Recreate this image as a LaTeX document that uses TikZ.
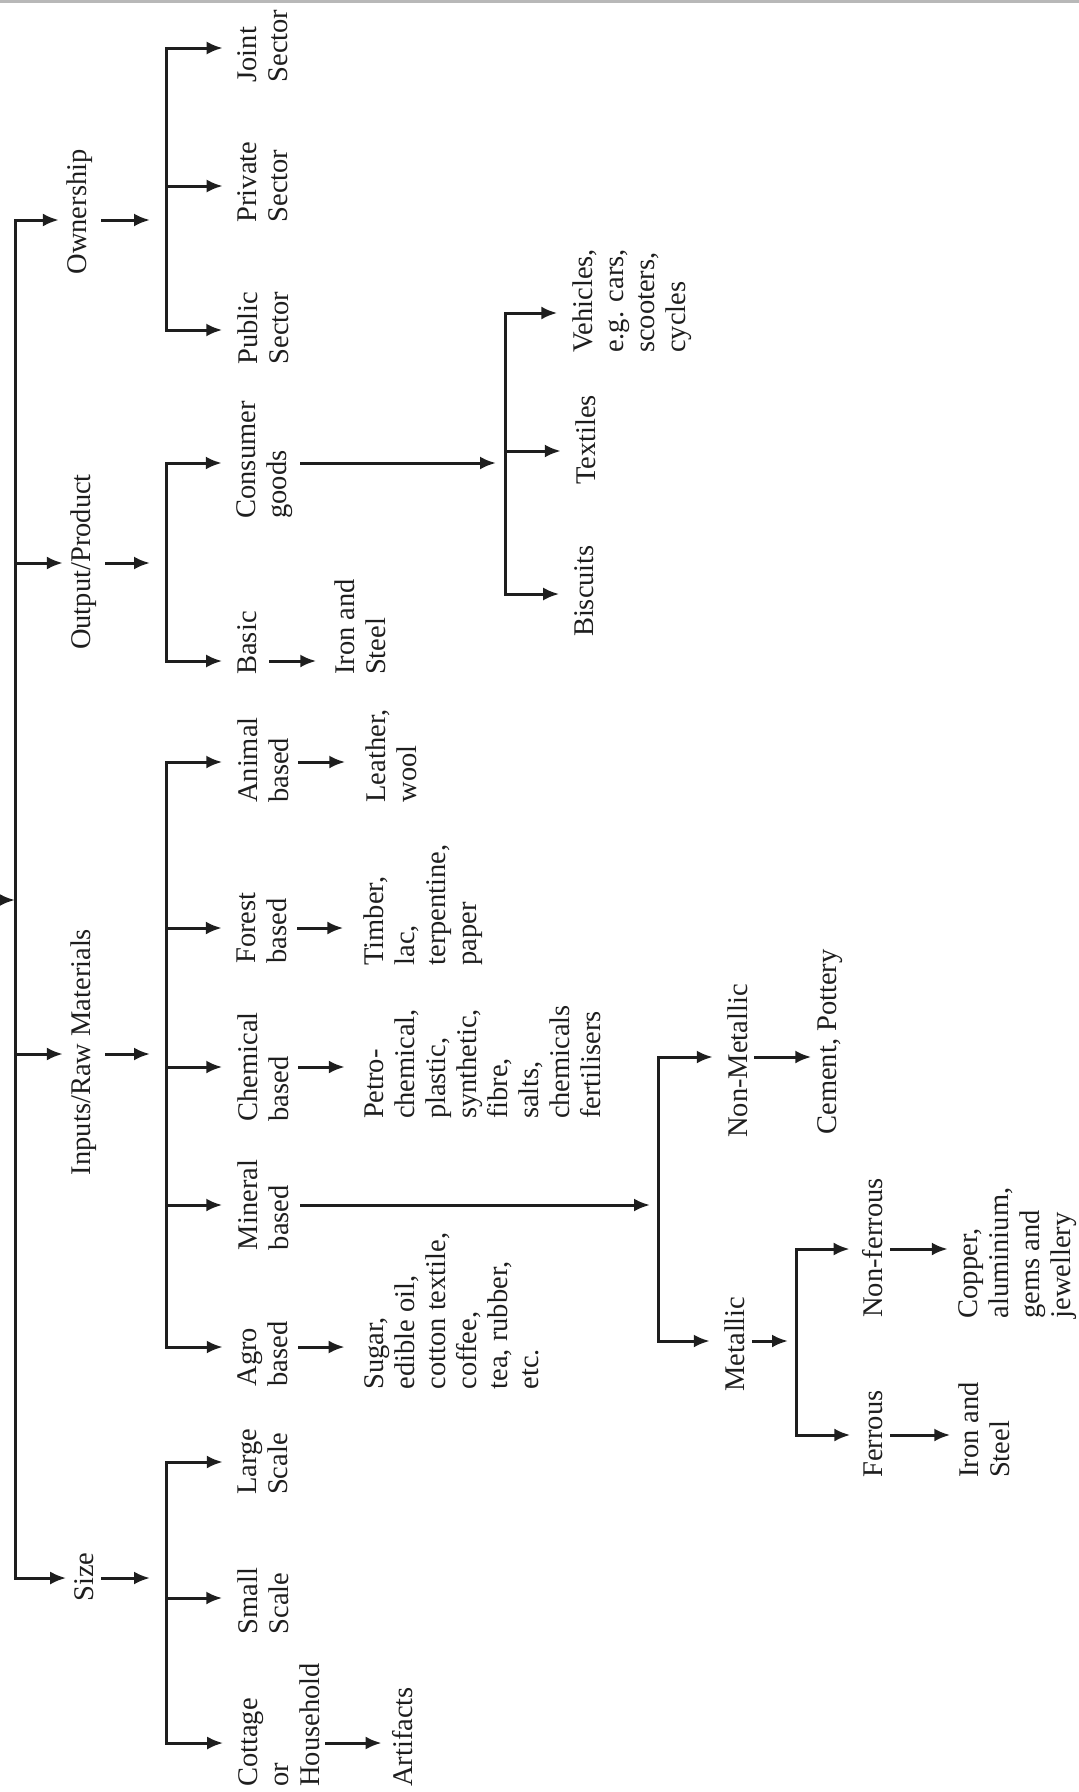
\documentclass[tikz,border=0pt]{standalone}
\usepackage{fontspec}
\setmainfont{Liberation Serif}
\usetikzlibrary{arrows.meta}
\definecolor{ink}{HTML}{1E1E1E}
\definecolor{rulegray}{HTML}{B8B8B8}

\begin{document}
\begin{tikzpicture}[
  x=1pt, y=-1pt,
  every node/.style={text=ink, font=\fontsize{28.5}{31}\selectfont, rotate=90, align=left, inner sep=0pt},
  wire/.style={ink, line width=3pt, line cap=rect},
  arr/.style={wire, -{Latex[length=16pt, width=13pt]}},
  feed/.style={arr, shorten >=15pt},
  link/.style={arr, shorten <=11pt, shorten >=20pt},
]

% Frame
\useasboundingbox (0,0) rectangle (1079,1792);
\draw[rulegray, line width=3pt] (0,1.5) -- (1079,1.5);

% Main line
\coordinate (m-from) at (-40,900);
\coordinate (m-in)   at (15,900);
\coordinate (m-own)  at (15,220);
\coordinate (m-out)  at (15,563);
\coordinate (m-inp)  at (15,1054);
\coordinate (m-size) at (15,1578);
\draw[wire] (m-own) -- (m-size);
\draw[arr] (m-from) -- (m-in);

% First level
\node (own)  at (80,212)  {Ownership};
\node (out)  at (84,562)  {Output/Product};
\node (inp)  at (84,1052) {Inputs/Raw Materials};
\node (size) at (84,1577) {Size};

\coordinate (b-own)  at (166,220);
\coordinate (b-out)  at (166,563);
\coordinate (b-inp)  at (166,1054);
\coordinate (b-size) at (166,1578);

\foreach \n in {own,out,inp,size}{
  \draw[arr, shorten >=8pt] (m-\n) -- (\n.north |- m-\n);
  \draw[arr, shorten <=9pt, shorten >=16pt] (\n.south |- m-\n) -- (b-\n);
}

% Ownership
\node (joint)   at (263,46)  {Joint\\Sector};
\node (private) at (263,182) {Private\\Sector};
\node (public)  at (263,328) {Public\\Sector};
\coordinate (b-joint)   at (166,48);
\coordinate (b-private) at (166,186);
\coordinate (b-public)  at (166,330);
\draw[wire] (b-joint) -- (b-public);
\foreach \n in {joint,private,public}
  \draw[feed] (b-\n) -- (\n.north |- b-\n);

% Output/Product
\node (consumer) at (265,460) {Consumer\\goods};
\node (basic)    at (247,643) {Basic};
\node (ironA)    at (360,627) {Iron and\\Steel};
\coordinate (b-consumer) at (166,463);
\coordinate (b-basic)    at (166,661);
\draw[wire] (b-consumer) -- (b-basic);
\foreach \n in {consumer,basic}
  \draw[feed] (b-\n) -- (\n.north |- b-\n);
\draw[link, shorten <=14pt, shorten >=18pt] (basic.south |- b-basic) -- (ironA.north |- b-basic);

% Consumer goods
\node (vehicles) at (632,301) {Vehicles,\\e.g. cars,\\scooters,\\cycles};
\node (textiles) at (586,440) {Textiles};
\node (biscuits) at (584,591) {Biscuits};
\coordinate (c-in)       at (505,463);
\coordinate (c-vehicles) at (505,313);
\coordinate (c-textiles) at (505,451);
\coordinate (c-biscuits) at (505,594);
\draw[arr, shorten <=8pt, shorten >=9pt] (consumer.south |- b-consumer) -- (c-in);
\draw[wire] (c-vehicles) -- (c-biscuits);
\foreach \n in {vehicles,textiles,biscuits}
  \draw[feed] (c-\n) -- (\n.north |- c-\n);

% Inputs/Raw Materials
\node (animal)   at (263,760)  {Animal\\based};
\node (leather)  at (391,756)  {Leather,\\wool};
\node (forest)   at (262,928)  {Forest\\based};
\node (timber)   at (423,905)  {Timber,\\lac,\\terpentine,\\paper};
\node (chemical) at (263,1067) {Chemical\\based};
\node (petro)    at (483,1062) {Petro-\\chemical,\\plastic,\\synthetic,\\fibre,\\salts,\\chemicals\\fertilisers};
\node (mineral)  at (263,1205) {Mineral\\based};
\node (agro)     at (263,1354) {Agro\\based};
\node (sugar)    at (452,1311) {Sugar,\\edible oil,\\cotton textile,\\coffee,\\tea, rubber,\\etc.};
\coordinate (b-animal)   at (166,762);
\coordinate (b-forest)   at (166,928);
\coordinate (b-chemical) at (166,1067);
\coordinate (b-mineral)  at (166,1205);
\coordinate (b-agro)     at (166,1347);
\draw[wire] (b-animal) -- (b-agro);
\foreach \n in {animal,forest,chemical,mineral,agro}
  \draw[feed] (b-\n) -- (\n.north |- b-\n);
\draw[link] (animal.south |- b-animal) -- (leather.north |- b-animal);
\draw[link] (forest.south |- b-forest) -- (timber.north |- b-forest);
\draw[link] (chemical.south |- b-chemical) -- (petro.north |- b-chemical);
\draw[link] (agro.south |- b-agro) -- (sugar.north |- b-agro);

% Mineral based
\node (nonmet)   at (738,1061) {Non-Metallic};
\node (cement)   at (830,1042) {Cement, Pottery};
\node (metallic) at (735,1344) {Metallic};
\coordinate (n-in)       at (658,1205);
\coordinate (n-nonmet)   at (658,1057);
\coordinate (n-metallic) at (658,1341);
\draw[arr, shorten <=13pt, shorten >=8pt] (mineral.south |- b-mineral) -- (n-in);
\draw[wire] (n-nonmet) -- (n-metallic);
\foreach \n in {nonmet,metallic}
  \draw[feed] (n-\n) -- (\n.north |- n-\n);
\draw[link, shorten <=7pt, shorten >=6pt] (nonmet.south |- n-nonmet) -- (cement.north |- n-nonmet);

% Metallic
\node (nonfer)  at (873,1248)  {Non-ferrous};
\node (copper)  at (1018,1253) {Copper,\\aluminium,\\gems and\\jewellery};
\node (ferrous) at (873,1434)  {Ferrous};
\node (ironB)   at (984,1430)  {Iron and\\Steel};
\coordinate (f-in)      at (796,1341);
\coordinate (f-nonfer)  at (796,1249);
\coordinate (f-ferrous) at (796,1435);
\draw[arr, shorten <=8pt, shorten >=8pt] (metallic.south |- n-metallic) -- (f-in);
\draw[wire] (f-nonfer) -- (f-ferrous);
\foreach \n in {nonfer,ferrous}
  \draw[feed, shorten >=13pt] (f-\n) -- (\n.north |- f-\n);
\draw[link, shorten <=8pt, shorten >=11pt] (nonfer.south |- f-nonfer) -- (copper.north |- f-nonfer);
\draw[link, shorten <=9pt, shorten >=8pt] (ferrous.south |- f-ferrous) -- (ironB.north |- f-ferrous);

% Size
\node (large)     at (263,1462) {Large\\Scale};
\node (small)     at (263,1601) {Small\\Scale};
\node (cottage)   at (279,1725) {Cottage\\or\\Household};
\node (artifacts) at (403,1737) {Artifacts};
\coordinate (b-large)   at (166,1462);
\coordinate (b-small)   at (166,1598);
\coordinate (b-cottage) at (166,1743);
\draw[wire] (b-large) -- (b-cottage);
\foreach \n in {large,small,cottage}
  \draw[feed] (b-\n) -- (\n.north |- b-\n);
\draw[link, shorten <=7pt, shorten >=11pt] (cottage.south |- b-cottage) -- (artifacts.north |- b-cottage);

\end{tikzpicture}
\end{document}
